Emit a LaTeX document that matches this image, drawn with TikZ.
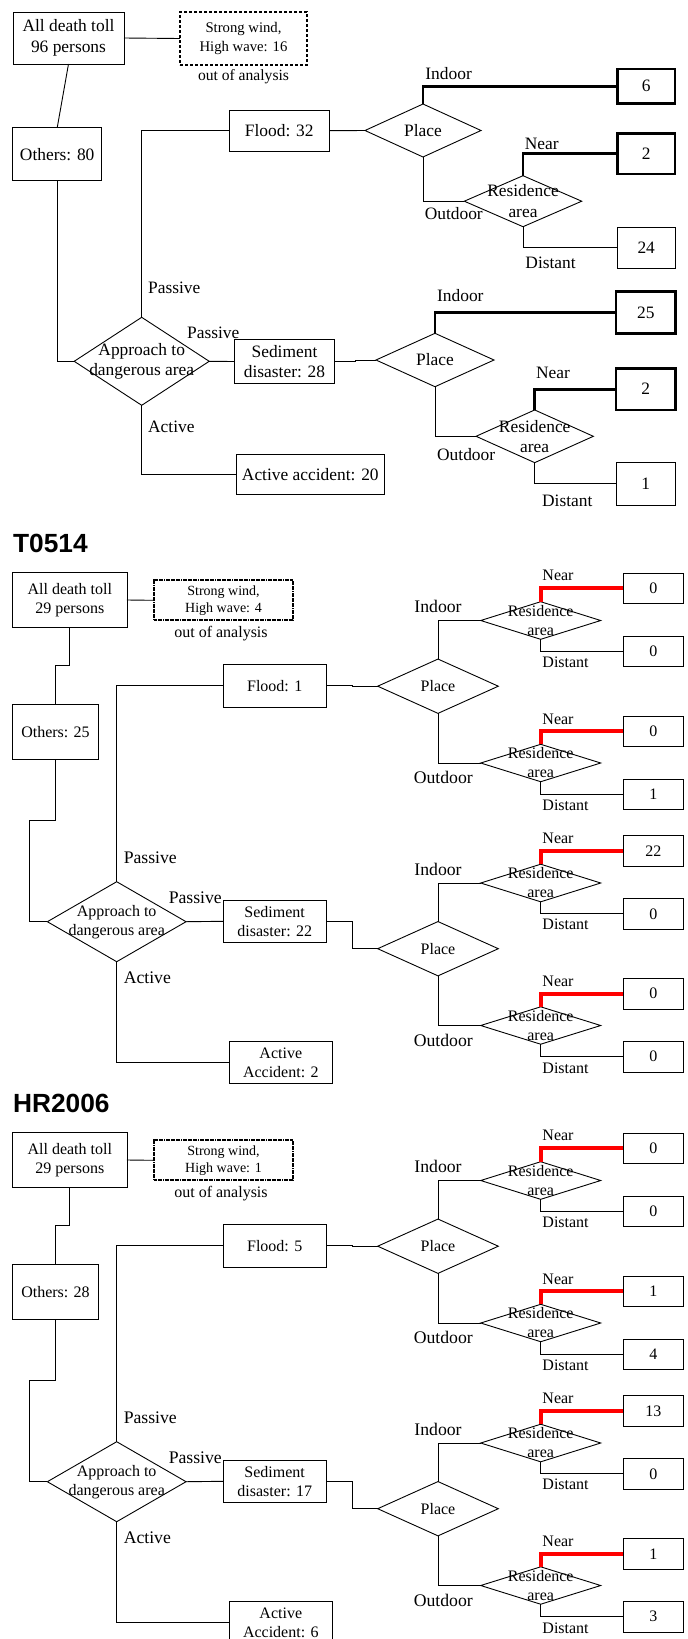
\documentclass[tikz,border=0pt]{standalone}
\usepackage{fontspec}
\setmainfont{Liberation Serif}
\newfontfamily\headfont{Liberation Sans}
\usetikzlibrary{shapes.geometric}

\begin{document}
\begin{tikzpicture}[x=1pt,y=-1pt,line width=0.9pt,
    box/.style={draw, rectangle, inner sep=0pt, outer sep=0pt, align=center},
    choice/.style={draw, diamond, inner sep=0pt, outer sep=0pt},
    lbl/.style={anchor=west, inner sep=0pt},
    boldline/.style={line width=2.7pt},
    hotline/.style={draw=red, line width=4pt},
    dashbox/.style={line width=1.2pt, dash pattern=on 3pt off 2pt},
    dotbox/.style={line width=2pt, dash pattern=on 1.3pt off 0.4pt},
    txtA/.style={font=\fontsize{17.4}{20.5}\selectfont},
    txtB/.style={font=\fontsize{16}{19}\selectfont},
    txtC/.style={font=\fontsize{17.7}{20}\selectfont},
    windA/.style={font=\fontsize{14.7}{18.7}\selectfont},
    windB/.style={font=\fontsize{14}{17.3}\selectfont},
    head/.style={font=\headfont\bfseries\fontsize{26.3}{30}\selectfont}]
    \useasboundingbox (0,0) rectangle (688,1639);

    % first storm (no title)
    \node[box, txtA, minimum width=111, minimum height=52] (toll1) at (68.5,38) {All death toll\\96 persons};
    \node[box, windA, dashbox, minimum width=127, minimum height=53] (wind1) at (243.5,38.5) {Strong wind,\\High wave: 16};
    \node[font=\fontsize{15.6}{18}\selectfont] (out1) at (243.5,77) {out of analysis};
    \node[box, txtA, minimum width=89, minimum height=53] (others1) at (57.2,154.3) {Others: 80};
    \node[choice, minimum width=135, minimum height=88,
          label={[txtA, align=center]center:{Approach to\\dangerous area}}] (app1) at (141.7,361.3) {};
    \node[box, txtA, minimum width=100, minimum height=41] (flood1) at (279.3,130.7) {Flood: 32};
    \node[box, txtA, minimum width=99.6, minimum height=43.6] (sed1) at (284.5,361.5) {Sediment\\disaster: 28};
    \node[box, txtA, minimum width=148, minimum height=40] (act1) at (310.3,474.3) {Active accident: 20};
    \node[lbl, txtA] (pasv1) at (147.7,288) {Passive};
    \node[lbl, txtA] (pash1) at (186.7,332.7) {Passive};
    \node[lbl, txtA] (actl1) at (147.7,426.7) {Active};

    \draw (toll1.east) -- (wind1.west);
    \draw (toll1.south) -- (others1.north);
    \draw (others1.south) |- (app1.west);
    \draw (app1.north) |- (flood1.west);
    \draw (app1.east) -- (sed1.west);
    \draw (app1.south) |- (act1.west);

    % flood branch
    \node[choice, minimum width=116, minimum height=53, label={[txtA]center:Place}] (place1) at (423,130.5) {};
    \node[choice, minimum width=117.4, minimum height=51,
          label={[txtA, align=center]center:{Residence\\area}}] (res1) at (523,201.2) {};
    \node[box, txtA, boldline, minimum width=57.7, minimum height=34.3] (in1) at (646.2,86.2) {6};
    \node[box, txtA, boldline, minimum width=57.7, minimum height=40.7] (near1) at (646.2,153.7) {2};
    \node[box, txtA, minimum width=57.7, minimum height=41] (far1) at (646.2,247.8) {24};
    \node[lbl, txtA] (indoor1) at (425,73.3) {Indoor};
    \node[lbl, txtA] (outdoor1) at (424.3,214) {Outdoor};
    \node[lbl, txtA] (nearl1) at (524.3,144.3) {Near};
    \node[lbl, txtA] (distl1) at (525,262.7) {Distant};
    \draw (flood1.east) -- (place1.west);
    \draw[boldline] (place1.north) |- (in1.west);
    \draw (place1.south) |- (res1.west);
    \draw[boldline] (res1.north) |- (near1.west);
    \draw (res1.south) |- (far1.west);

    % sediment branch
    \node[choice, minimum width=118, minimum height=53.4, label={[txtA]center:Place}] (place2) at (435,360) {};
    \node[choice, minimum width=117.3, minimum height=52.7,
          label={[txtA, align=center]center:{Residence\\area}}] (res2) at (534.7,436.3) {};
    \node[box, txtA, boldline, minimum width=59.7, minimum height=41.6] (in2) at (645.8,312.5) {25};
    \node[box, txtA, boldline, minimum width=59.7, minimum height=41.7] (near2) at (645.8,389.2) {2};
    \node[box, txtA, minimum width=59.7, minimum height=42.3] (far2) at (645.8,483.8) {1};
    \node[lbl, txtA] (indoor2) at (436.7,296) {Indoor};
    \node[lbl, txtA] (outdoor2) at (436.7,454.3) {Outdoor};
    \node[lbl, txtA] (nearl2) at (535.7,372.7) {Near};
    \node[lbl, txtA] (distl2) at (541.7,500.7) {Distant};
    \draw (sed1.east) -- ++(21.4,0) |- (place2.west);
    \draw[boldline] (place2.north) |- (in2.west);
    \draw (place2.south) |- (res2.west);
    \draw[boldline] (res2.north) |- (near2.west);
    \draw (res2.south) |- (far2.west);

    % T0514 and HR2006 share one layout
    \foreach \dy/\storm/\wind/\other/\flood/\sed/\act/\fNi/\fDi/\fNo/\fDo/\sNi/\sDi/\sNo/\sDo in
        {0/T0514/4/25/1/22/2/0/0/0/1/22/0/0/0,
         560/HR2006/1/28/5/17/6/0/0/1/4/13/0/1/3} {
    \begin{scope}[shift={(0,\dy)}]
        \node[lbl, head] (title) at (12.7,543) {\storm};
        \node[box, txtB, minimum width=114.3, minimum height=54.6] (toll) at (69.8,600) {All death toll\\29 persons};
        \node[box, windB, dotbox, minimum width=138.4, minimum height=40] (wind) at (223.5,600.3) {Strong wind,\\High wave: \wind};
        \node[txtB] (out) at (221,633.3) {out of analysis};
        \node[box, txtB, minimum width=85.6, minimum height=54.7] (others) at (55.5,731.7) {Others: \other};
        \node[choice, minimum width=138.7, minimum height=80,
              label={[txtB, align=center]center:{Approach to\\dangerous area}}] (app) at (116.7,921.7) {};
        \node[box, txtB, minimum width=102.7, minimum height=43] (flood) at (274.7,685.8) {Flood: \flood};
        \node[box, txtB, minimum width=102.7, minimum height=42.7] (sed) at (274.7,921.3) {Sediment\\disaster: \sed};
        \node[box, txtB, minimum width=103, minimum height=41.6] (act) at (280.8,1062.5) {Active\\Accident: \act};
        \node[lbl, txtC] (pasv) at (123.3,857.3) {Passive};
        \node[lbl, txtC] (pash) at (168.3,897.3) {Passive};
        \node[lbl, txtC] (actl) at (123.3,977.3) {Active};

        \draw (toll.east) -- (wind.west);
        \draw (toll.south) -- ++(0,38.4) -| (others.north);
        \draw (others.south) -- ++(0,61) -- ++(-26.3,0) |- (app.west);
        \draw (app.north) |- (flood.west);
        \draw (app.east) -- (sed.west);
        \draw (app.south) |- (act.west);

        % place -> residence area -> counts
        \foreach \py/\src/\nIn/\dIn/\nOut/\dOut in
            {0/flood/\fNi/\fDi/\fNo/\fDo, 262.5/sed/\sNi/\sDi/\sNo/\sDo} {
        \begin{scope}[shift={(0,\py)}]
            \node[choice, minimum width=120.6, minimum height=54.3, label={[txtB]center:Place}] (place) at (438,686.2) {};
            \node[choice, minimum width=120, minimum height=37.6,
                  label={[txtB, align=center]center:{Residence\\area}}] (resin) at (540.7,620.5) {};
            \node[choice, minimum width=120, minimum height=37.4,
                  label={[txtB, align=center]center:{Residence\\area}}] (resout) at (540.7,763) {};
            \node[box, txtB, minimum width=60, minimum height=30.5] (nin) at (653.3,588.3) {\nIn};
            \node[box, txtB, minimum width=60, minimum height=30.5] (din) at (653.3,651.3) {\dIn};
            \node[box, txtB, minimum width=60, minimum height=30.5] (nout) at (653.3,731.2) {\nOut};
            \node[box, txtB, minimum width=60, minimum height=30.5] (dout) at (653.3,794.2) {\dOut};
            \node[lbl, txtC] (indoor) at (414,606.7) {Indoor};
            \node[lbl, txtC] (outdoor) at (413.3,777.7) {Outdoor};
            \node[lbl, txtB] (nearlin) at (542,575.5) {Near};
            \node[lbl, txtB] (distlin) at (542,662) {Distant};
            \node[lbl, txtB] (nearlout) at (542,719) {Near};
            \node[lbl, txtB] (distlout) at (542,805.5) {Distant};
            \draw (\src.east) -- ++(26,0) |- (place.west);
            \draw (place.north) |- (resin.west);
            \draw (place.south) |- (resout.west);
            \draw[hotline] (resin.north) |- (nin.west);
            \draw (resin.south) |- (din.west);
            \draw[hotline] (resout.north) |- (nout.west);
            \draw (resout.south) |- (dout.west);
        \end{scope}
        }
    \end{scope}
    }
\end{tikzpicture}
\end{document}
